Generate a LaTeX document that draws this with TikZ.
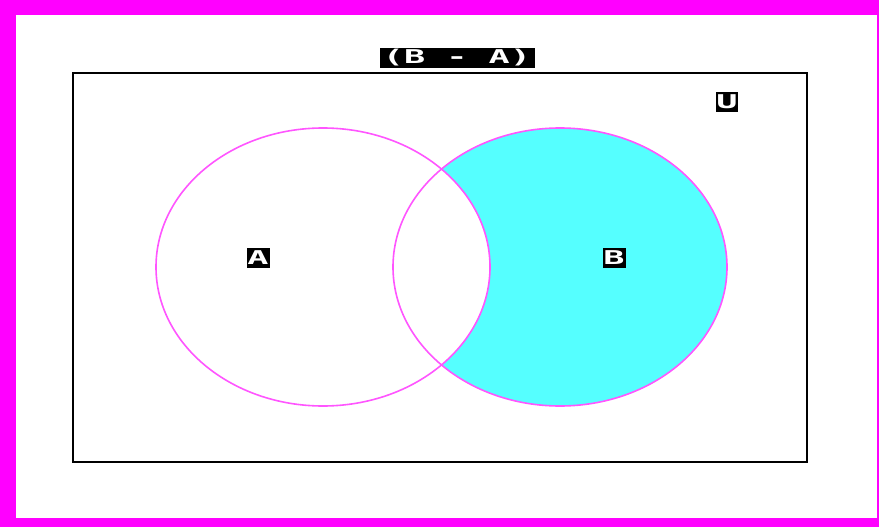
\documentclass[tikz,border=0pt]{standalone}
\usepackage{fontspec}
\usepackage{graphicx}
\setmonofont{DejaVu Sans Mono}
\definecolor{framemag}{HTML}{FF00FF}
\definecolor{setline}{HTML}{FF55FF}
\definecolor{diffcyan}{HTML}{55FFFF}
\newcommand{\wide}[1]{\scalebox{1.85}[1]{#1}}
\begin{document}
\begin{tikzpicture}[x=1pt,y=-1pt]
\tikzset{tag/.style={fill=black,text=white,inner sep=0pt,minimum height=20,font=\fontsize{19}{19}\selectfont\ttfamily\bfseries},
  setring/.style={draw=setline,line width=1.6}}
\useasboundingbox (0,0) rectangle (879,527);
% page frame
\fill[framemag] (0,0) rectangle (879,527);
\fill[white] (16,15) rectangle (877,518);
% universe
\draw[line width=1.5] (73,73) rectangle (807,462);
% B - A shaded
\fill[diffcyan] (560,267) ellipse [x radius=167,y radius=139];
\fill[white] (323,267) ellipse [x radius=167,y radius=139];
\draw[setring] (323,267) ellipse [x radius=167,y radius=139];
\draw[setring] (560,267) ellipse [x radius=167,y radius=139];
% labels
\node[tag,minimum width=155] (title) at (457,58) {\wide{(B - A)}};
\node[tag,minimum width=21] (univ) at (727,102) {\wide{U}};
\node[tag,minimum width=23] (seta) at (258,258) {\wide{A}};
\node[tag,minimum width=23] (setb) at (614,258) {\wide{B}};
\end{tikzpicture}
\end{document}
